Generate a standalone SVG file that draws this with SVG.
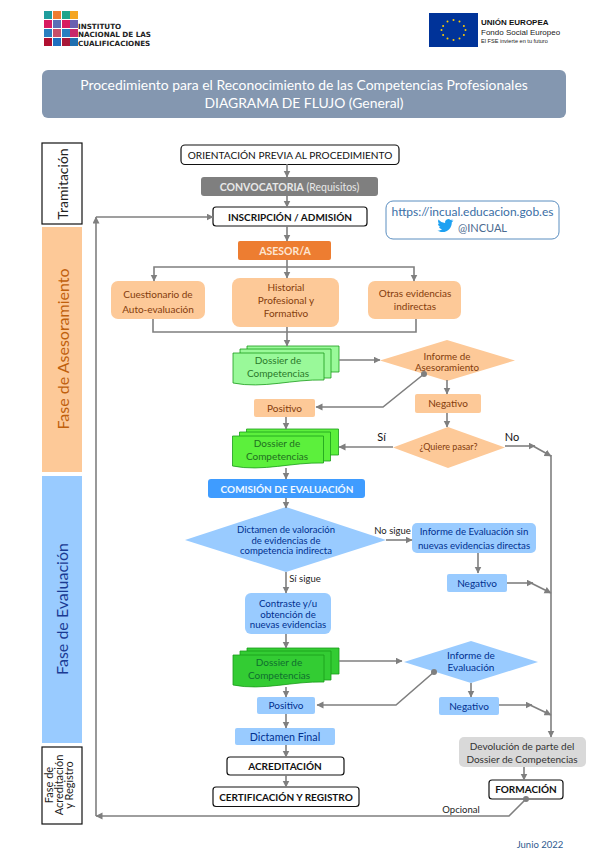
<svg xmlns="http://www.w3.org/2000/svg" width="592" height="860" viewBox="0 0 592 860">
<style>
text{font-family:Lato,"Open Sans",sans-serif;text-anchor:middle}
.c{fill:none;stroke:#7f7f7f;stroke-width:1.6}
.a{marker-end:url(#arr)}
.blk{fill:#fff;stroke:#111;stroke-width:1.2}
.or{fill:#fdc998}
.bl{fill:#99cbff}
.ot{fill:#843c0c;font-size:10px}
.bt{fill:#00308f;font-size:10px}
.k{fill:#111;font-size:10px;font-weight:700}
.l{fill:#222;font-size:9.5px}
.side{font-size:16px}
.st{stroke:#1a9c1a;stroke-width:.8}
.dt{stroke:none;font-size:10px}
.lg{text-anchor:start;font-family:'DejaVu Sans',sans-serif;font-size:7.2px;font-weight:700;fill:#222}
.ue{text-anchor:start;font-family:'Liberation Sans',sans-serif;fill:#222}
</style>
<defs>
<marker id="arr" markerWidth="8" markerHeight="8" refX="6.5" refY="3.5" orient="auto" markerUnits="userSpaceOnUse"><path d="M0 0L7 3.5L0 7z" fill="#7f7f7f"/></marker>
<g id="doc">
<path d="M14 0H106V26H14z"/>
<path d="M7 3H98V32H7z"/>
<path d="M0 7H91V34C60 33 30 43 0 37z"/>
</g>
</defs>
<rect width="592" height="860" fill="#fff"/>
<g id="logo-incual">
<g>
<rect x="44" y="11" width="8" height="8" fill="#1f9d9d"/><rect x="53" y="11" width="8" height="8" fill="#ef7d31"/><rect x="62" y="11" width="8" height="8" fill="#1fa58a"/><rect x="70" y="11" width="8" height="8" fill="#f5a623"/>
<rect x="44" y="20" width="8" height="8" fill="#d81b60"/><rect x="53" y="20" width="8" height="8" fill="#5b6fb5"/><rect x="62" y="20" width="8" height="8" fill="#d81b60"/><rect x="70" y="20" width="8" height="8" fill="#6a5fb0"/>
<rect x="44" y="29" width="8" height="8" fill="#2a7fc0"/><rect x="53" y="29" width="8" height="8" fill="#c8506a"/><rect x="62" y="29" width="8" height="8" fill="#2a7fc0"/><rect x="70" y="29" width="8" height="8" fill="#c8286a"/>
<rect x="44" y="38" width="8" height="8" fill="#b01030"/><rect x="53" y="38" width="8" height="8" fill="#1f6fc0"/><rect x="62" y="38" width="8" height="8" fill="#a81838"/><rect x="70" y="38" width="8" height="8" fill="#1f6fb0"/>
</g>
<text x="78" y="28.500" class="lg">INSTITUTO</text>
<text x="78" y="37" class="lg">NACIONAL DE LAS</text>
<text x="78" y="45.500" class="lg">CUALIFICACIONES</text>
</g>
<g id="logo-ue">
<rect x="429" y="13" width="49" height="34" fill="#003399"/>
<g fill="#ffcc00"><circle cx="453.500" cy="20" r="1"/><circle cx="459.500" cy="21.600" r="1"/><circle cx="463.900" cy="26" r="1"/><circle cx="465.500" cy="30" r="1"/><circle cx="463.900" cy="35" r="1"/><circle cx="459.500" cy="38.400" r="1"/><circle cx="453.500" cy="40" r="1"/><circle cx="447.500" cy="38.400" r="1"/><circle cx="443.100" cy="35" r="1"/><circle cx="441.500" cy="30" r="1"/><circle cx="443.100" cy="26" r="1"/><circle cx="447.500" cy="21.600" r="1"/></g>
<text x="481" y="24.500" class="ue" style="font-size:8px;font-weight:700;fill:#111">UNIÓN EUROPEA</text>
<text x="481" y="34.500" class="ue" style="font-size:8px">Fondo Social Europeo</text>
<text x="481" y="42.500" class="ue" style="font-size:5.600px">El FSE invierte en tu futuro</text>
</g>
<g id="titulo">
<rect x="42" y="70" width="524" height="48" rx="6" fill="#8497b0"/>
<text x="304" y="90" fill="#fff" font-size="13.900">Procedimiento para el Reconocimiento de las Competencias Profesionales</text>
<text x="304" y="108" fill="#fff" font-size="13.900">DIAGRAMA DE FLUJO (General)</text>
</g>
<g id="fase-tramitacion"><rect x="42" y="143" width="40" height="81" fill="#fff" stroke="#111" stroke-width="1.200"/><text transform="translate(68 184) rotate(-90)" fill="#222" style="font-size:14px">Tramitación</text></g>
<g id="fase-asesoramiento"><rect x="42" y="227" width="40" height="245" class="or"/><text transform="translate(69 349) rotate(-90)" fill="#c0600c" class="side">Fase de Asesoramiento</text></g>
<g id="fase-evaluacion"><rect x="42" y="476" width="40" height="267" class="bl"/><text transform="translate(68 609) rotate(-90)" fill="#1a3a93" class="side">Fase de Evaluación</text></g>
<g id="fase-acreditacion"><rect x="42" y="747" width="40" height="77" fill="#fff" stroke="#111" stroke-width="1.200"/><text transform="translate(53 785) rotate(-90)" fill="#222" font-size="11"><tspan x="0" y="0">Fase de</tspan><tspan x="0" y="10">Acreditación</tspan><tspan x="0" y="20">y Registro</tspan></text></g>
<g id="orientacion"><rect x="181" y="145" width="218" height="19.500" rx="4" class="blk"/><text x="290" y="159" fill="#111" font-size="10.100">ORIENTACIÓN PREVIA AL PROCEDIMIENTO</text></g>
<g id="convocatoria"><rect x="201" y="177" width="177" height="19" rx="3" fill="#7f7f7f"/><text x="289.500" y="191" fill="#e8e8e8" font-size="10.500"><tspan font-weight="700">CONVOCATORIA</tspan> (Requisitos)</text></g>
<g id="inscripcion"><rect x="213" y="207" width="154" height="19" rx="3" class="blk"/><text x="290" y="221" class="k">INSCRIPCIÓN / ADMISIÓN</text></g>
<g id="asesor"><rect x="238" y="241" width="93" height="19" rx="2" fill="#ed7d31"/><text x="285" y="255" fill="#fde5d2" font-size="10.500" font-weight="700">ASESOR/A</text></g>
<g id="cuestionario"><rect x="111" y="281" width="94" height="38" rx="7" class="or"/><text x="158" y="297.500" class="ot">Cuestionario de</text><text x="158" y="312.500" class="ot">Auto-evaluación</text></g>
<g id="historial"><rect x="232" y="278" width="107" height="49" rx="8" class="or"/><text x="286" y="291" class="ot">Historial</text><text x="286" y="304" class="ot">Profesional y</text><text x="286" y="317" class="ot">Formativo</text></g>
<g id="otras"><rect x="368" y="281" width="93" height="38" rx="7" class="or"/><text x="415" y="297" class="ot">Otras evidencias</text><text x="415" y="310" class="ot">indirectas</text></g>
<g id="enlace"><rect x="386" y="201" width="173" height="38" rx="7" fill="#fff" stroke="#5b8ec0" stroke-width="1"/><text x="472.500" y="216" fill="#3a6ea5" font-size="12">https://incual.educacion.gob.es</text><text x="482.500" y="232" fill="#4a6a90" font-size="11">@INCUAL</text>
<path d="M453 220.500c-.6.3-1.200.4-1.800.5.700-.4 1.200-1 1.400-1.700-.6.4-1.300.6-2 .8a3.200 3.200 0 0 0-5.500 2.900c-2.700-.1-5-1.400-6.600-3.400-.9 1.500-.4 3.400 1 4.300-.5 0-1-.2-1.500-.4 0 1.600 1.100 3 2.600 3.300-.5.100-1 .2-1.500.1.400 1.300 1.600 2.200 3 2.300-1.400 1.100-3.200 1.600-4.900 1.400 1.500.9 3.200 1.500 5.100 1.500 6.200 0 9.700-5.200 9.500-9.900.6-.5 1.200-1 1.600-1.700z" fill="#1da1f2"/></g>
<g id="dossier1" fill="#99f999" class="st"><use href="#doc" x="233" y="346"/><text x="278" y="364" fill="#2a7a2a" class="dt">Dossier de</text><text x="278" y="377" fill="#2a7a2a" class="dt">Competencias</text></g>
<g id="informe-asesoramiento"><path d="M380 360.500L447 340L515 360.500L447 381z" class="or"/><text x="447" y="359.500" class="ot" style="font-size:9.800px">Informe de</text><text x="447" y="370.500" class="ot" style="font-size:9.800px">Asesoramiento</text></g>
<g id="positivo1"><rect x="254" y="399" width="61" height="18" rx="2" class="or"/><text x="284.500" y="412" class="ot">Positivo</text></g>
<g id="negativo1"><rect x="415" y="394" width="66" height="19" rx="2" class="or"/><text x="448" y="407" class="ot">Negativo</text></g>
<g id="dossier2" fill="#5cf03c" class="st"><use href="#doc" x="232.500" y="429"/><text x="277" y="447" fill="#1f6f1f" class="dt">Dossier de</text><text x="277" y="460" fill="#1f6f1f" class="dt">Competencias</text></g>
<g id="quiere"><path d="M393 447.500L448 427L505 447.500L448 468z" class="or"/><text x="448.500" y="450" fill="#843c0c" font-size="9">¿Quiere pasar?</text></g>
<text x="381.500" y="441" fill="#111" font-size="11">Sí</text>
<text x="512" y="441" fill="#111" font-size="11">No</text>
<g id="comision"><rect x="208" y="479" width="157" height="19" rx="3" fill="#3f9cff"/><text x="287" y="493" fill="#f0f8ff" font-size="10" font-weight="700">COMISIÓN DE EVALUACIÓN</text></g>
<g id="dictamen-valoracion"><path d="M185 540L286 507L386 540L286 572z" class="bl"/><text x="286" y="533" class="bt" style="font-size:9.500px">Dictamen de valoración</text><text x="286" y="543.500" class="bt" style="font-size:9.500px">de evidencias de</text><text x="286" y="554" class="bt" style="font-size:9.500px">competencia indirecta</text></g>
<text x="392.500" y="533.500" class="l">No sigue</text>
<text x="305" y="582" class="l">Sí sigue</text>
<g id="informe-sin"><rect x="412" y="523" width="124" height="30" rx="5" class="bl"/><text x="474" y="535" class="bt" style="font-size:9.700px">Informe de Evaluación sin</text><text x="474" y="549" class="bt" style="font-size:9.700px">nuevas evidencias directas</text></g>
<g id="negativo2"><rect x="447" y="574" width="60" height="18" rx="2" class="bl"/><text x="477" y="587" class="bt">Negativo</text></g>
<g id="contraste"><rect x="245" y="593" width="86" height="41" rx="6" class="bl"/><text x="288" y="607" class="bt" style="font-size:9.700px">Contraste y/u</text><text x="288" y="617.500" class="bt" style="font-size:9.700px">obtención de</text><text x="288" y="628" class="bt" style="font-size:9.700px">nuevas evidencias</text></g>
<g id="dossier3" fill="#33cc33" class="st"><use href="#doc" x="233" y="648"/><text x="279" y="666" fill="#0f6f2f" class="dt">Dossier de</text><text x="279" y="679" fill="#0f6f2f" class="dt">Competencias</text></g>
<g id="informe-evaluacion"><path d="M404 662L471 641L538 662L471 683z" class="bl"/><text x="471" y="659" class="bt">Informe de</text><text x="471" y="671" class="bt">Evaluación</text></g>
<g id="positivo2"><rect x="257" y="697" width="58" height="17" rx="2" class="bl"/><text x="286" y="709" class="bt">Positivo</text></g>
<g id="negativo3"><rect x="439" y="697" width="60" height="18" rx="2" class="bl"/><text x="469" y="710" class="bt">Negativo</text></g>
<g id="dictamen-final"><rect x="235" y="728" width="100" height="17" rx="2" class="bl"/><text x="285" y="741" class="bt" style="font-size:10.700px">Dictamen Final</text></g>
<g id="acreditacion"><rect x="227" y="757" width="117" height="18" rx="3" class="blk"/><text x="285" y="770" class="k">ACREDITACIÓN</text></g>
<g id="certificacion"><rect x="213" y="787" width="146" height="19.500" rx="3" class="blk"/><text x="286" y="801" class="k">CERTIFICACIÓN Y REGISTRO</text></g>
<g id="devolucion"><rect x="459" y="737" width="127" height="30" rx="5" fill="#d9d9d9"/><text x="522" y="750" fill="#333" font-size="10">Devolución de parte del</text><text x="522" y="763" fill="#333" font-size="10">Dossier de Competencias</text></g>
<g id="formacion"><rect x="489" y="780" width="74" height="19" rx="3" class="blk"/><text x="526" y="793" fill="#111" font-size="10" font-weight="700">FORMACIÓN</text></g>
<text x="461" y="813" class="l">Opcional</text>
<text x="540" y="848" fill="#2f5a8f" font-size="9.500">Junio 2022</text>
<g id="connectors">
<path class="c a" d="M287 164V177"/>
<path class="c a" d="M287 196V207"/>
<path class="c a" d="M287 226V241"/>
<path class="c a" d="M287 260V278"/>
<path class="c a" d="M287 267H154V281"/>
<path class="c a" d="M287 267H414V281"/>
<path class="c" d="M153 319V332H416V319"/>
<path class="c a" d="M287 327V346"/>
<path class="c a" d="M339 360H380"/>
<path class="c a" d="M424 374L383 407H316"/>
<circle cx="424" cy="374" r="3" fill="#7f7f7f"/>
<path class="c a" d="M286 417V429"/>
<path class="c a" d="M447 380V394"/>
<path class="c a" d="M447 413V427"/>
<path class="c a" d="M393 447H339"/>
<path class="c a" d="M505 446H535"/>
<path class="c a" d="M533 446L551 456"/>
<path class="c a" d="M551 455V737"/>
<path class="c a" d="M286 468V479"/>
<path class="c a" d="M286 498V508"/>
<path class="c a" d="M386 540H412"/>
<path class="c a" d="M478 553V573"/>
<path class="c a" d="M507 583H533"/>
<path class="c a" d="M531 583L551 593"/>
<path class="c a" d="M286 572V593"/>
<path class="c a" d="M286 634V648"/>
<path class="c a" d="M339 661H402"/>
<path class="c a" d="M434 672L396 705H317"/>
<circle cx="434" cy="672" r="3" fill="#7f7f7f"/>
<path class="c a" d="M471 683V697"/>
<path class="c a" d="M499 705H532"/>
<path class="c a" d="M530 705L551 715"/>
<path class="c a" d="M286 687V697"/>
<path class="c a" d="M286 714V728"/>
<path class="c a" d="M286 745V757"/>
<path class="c a" d="M286 775V787"/>
<path class="c a" d="M524 767V780"/>
<path class="c a" d="M526 799L509 816H96"/>
<circle cx="526" cy="799" r="3" fill="#7f7f7f"/>
<path class="c a" d="M96 816V217"/>
<path class="c a" d="M96 217H213"/>
</g>
</svg>
